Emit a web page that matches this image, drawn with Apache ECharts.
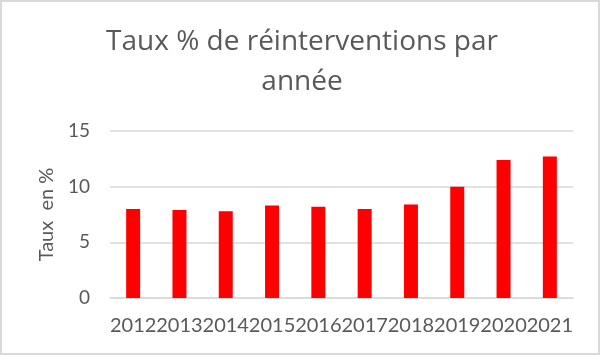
<!DOCTYPE html>
<html>
<head>
<meta charset="utf-8">
<script src="https://cdn.jsdelivr.net/npm/echarts@6/dist/echarts.min.js"></script>
<style>
  html, body { margin: 0; padding: 0; background: #fff; }
  #main { width: 600px; height: 355px; }
</style>
</head>
<body>
<div id="main"></div>
<script>
var annees = ['2012', '2013', '2014', '2015', '2016', '2017', '2018', '2019', '2020', '2021'];
var taux = [8.0, 7.9, 7.8, 8.3, 8.2, 8.0, 8.4, 10.0, 12.4, 12.7];
var yTicks = [0, 5, 10, 15];

var myChart = echarts.init(document.getElementById('main'));

var option = {
    backgroundColor: '#fff',
    textStyle: { fontFamily: 'Lato' },
    title: {
        text: 'Taux % de réinterventions par\nannée',
        left: 297,
        top: 17,
        textAlign: 'center',
        textStyle: {
            fontFamily: 'Open Sans',
            fontSize: 28,
            fontWeight: 'normal',
            color: '#595959',
            lineHeight: 40
        }
    },
    graphic: [{
        type: 'rect',
        shape: { x: 1, y: 1, width: 598, height: 353 },
        style: { fill: 'none', stroke: '#d9d9d9', lineWidth: 2 },
        silent: true
    }],
    grid: { left: 110, right: 27, top: 131, bottom: 57 },
    xAxis: {
        type: 'category',
        data: annees,
        axisTick: { show: false },
        axisLine: { lineStyle: { color: '#d9d9d9', width: 1.5 } },
        axisLabel: { color: '#595959', fontSize: 20, margin: 18, interval: 0 }
    },
    yAxis: {
        type: 'value',
        min: yTicks[0],
        max: yTicks[yTicks.length - 1],
        interval: 5,
        name: 'Taux  en %',
        nameLocation: 'middle',
        nameGap: 53,
        nameTextStyle: { color: '#595959', fontSize: 20 },
        axisLine: { show: false },
        axisTick: { show: false },
        axisLabel: { color: '#595959', fontSize: 19, margin: 20 },
        splitLine: { lineStyle: { color: '#d9d9d9', width: 1.5 } }
    },
    series: [{
        name: 'Taux',
        type: 'bar',
        data: taux,
        barWidth: 14,
        itemStyle: { color: '#ff0000' }
    }]
};

myChart.setOption(option);
</script>
</body>
</html>
